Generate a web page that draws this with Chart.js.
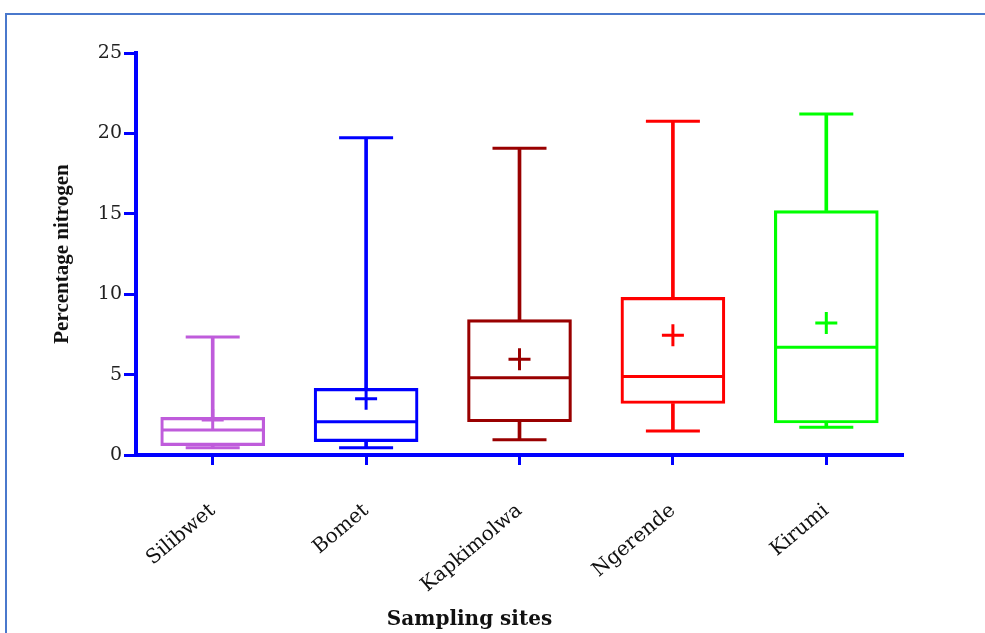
<!DOCTYPE html>
<html>
<head>
<meta charset="utf-8">
<title>Percentage nitrogen by sampling site</title>
<script src="https://cdn.jsdelivr.net/npm/chart.js@4.4.1/dist/chart.umd.min.js"></script>
<style>
  html, body { margin: 0; padding: 0; background: #fff; }
  #wrap { position: relative; width: 985px; height: 633px; overflow: hidden; }
  #frame { position: absolute; left: 5px; top: 13px; width: 1000px; height: 700px;
           border-top: 2px solid #4a78cc; border-left: 2px solid #4a78cc; }
  #chart { position: absolute; left: 0; top: 0; }
</style>
</head>
<body>
<div id="wrap">
  <div id="frame"></div>
  <canvas id="chart" width="985" height="633"></canvas>
</div>
<script>
// ─── Data ─────────────────────────────────────────────────────────────────────
const sites      = ['Silibwet', 'Bomet', 'Kapkimolwa', 'Ngerende', 'Kirumi'];
const whiskerLow = [0.45, 0.45, 0.95, 1.49, 1.72];
const quart1     = [0.58, 0.83, 2.07, 3.20, 1.99];
const medians    = [1.55, 2.07, 4.80, 4.88, 6.70];
const quart3     = [2.34, 4.14, 8.42, 9.80, 15.20];
const whiskerHigh = [7.34, 19.73, 19.07, 20.76, 21.20];
const means      = [2.17, 3.50, 5.96, 7.44, 8.21];
const yTicks     = [0, 5, 10, 15, 20, 25];

const siteColors = ['#bf5cdb', '#0000ff', '#990000', '#ff0000', '#00ff00'];
const AXIS_BLUE = '#0000ff';

// ─── Datasets ─────────────────────────────────────────────────────────────────
const pair = (a, b) => a.map((v, i) => [v, b[i]]);

const whiskerBar = (lo, hi) => ({
  type: 'bar',
  data: pair(lo, hi),
  backgroundColor: siteColors,
  borderWidth: 0,
  barThickness: 3,
  grouped: false,
});

const marker = (values, style, radius, width) => ({
  type: 'line',
  data: values,
  showLine: false,
  pointStyle: style,
  pointRadius: radius,
  pointHoverRadius: radius,
  pointBorderColor: siteColors,
  pointBackgroundColor: siteColors,
  pointBorderWidth: width,
  pointHoverBorderWidth: width,
});

const datasets = [
  whiskerBar(whiskerLow, quart1),
  whiskerBar(quart3, whiskerHigh),
  {
    type: 'bar',
    data: pair(quart1, quart3),
    backgroundColor: 'rgba(0,0,0,0)',
    borderColor: siteColors,
    borderWidth: 2.5,
    borderSkipped: false,
    barThickness: 104,
    grouped: false,
  },
  marker(whiskerLow, 'line', 27, 3),
  marker(whiskerHigh, 'line', 27, 3),
  marker(medians, 'line', 50, 3),
  marker(means, 'cross', 11, 3),
];

// ─── Chart ────────────────────────────────────────────────────────────────────
new Chart(document.getElementById('chart').getContext('2d'), {
  type: 'bar',
  data: { labels: sites, datasets },
  options: {
    responsive: false,
    animation: false,
    events: [],
    layout: { padding: { left: 36, right: 82, top: 52, bottom: 1 } },
    plugins: {
      legend: { display: false },
      tooltip: { enabled: false },
      title: {
        display: true,
        position: 'bottom',
        text: 'Sampling sites',
        color: '#111',
        font: { family: 'DejaVu Serif', size: 20, weight: 'bold' },
        padding: { top: 0, bottom: 0 },
      },
    },
    scales: {
      x: {
        offset: true,
        afterFit: s => { s.height = 153; },
        grid: {
          offset: false, drawOnChartArea: false, drawTicks: true,
          tickLength: 10, tickWidth: 3, tickColor: AXIS_BLUE,
        },
        border: { color: AXIS_BLUE, width: 4 },
        ticks: {
          autoSkip: false, maxRotation: 40, minRotation: 40, padding: 34,
          color: '#111', font: { family: 'DejaVu Serif', size: 20 },
        },
      },
      y: {
        min: 0, max: 25,
        afterFit: s => { s.width = 100; },
        afterBuildTicks: s => { s.ticks = yTicks.map(v => ({ value: v })); },
        grid: {
          drawOnChartArea: false, drawTicks: true,
          tickLength: 12, tickWidth: 3, tickColor: AXIS_BLUE,
        },
        border: { color: AXIS_BLUE, width: 4 },
        ticks: { padding: 2, color: '#222', font: { family: 'DejaVu Serif', size: 19 } },
        title: {
          display: true,
          text: 'Percentage nitrogen',
          color: '#111',
          font: { family: 'Liberation Serif', size: 21, weight: 'bold' },
          padding: { top: 14, bottom: 0 },
        },
      },
    },
  },
});
</script>
</body>
</html>
